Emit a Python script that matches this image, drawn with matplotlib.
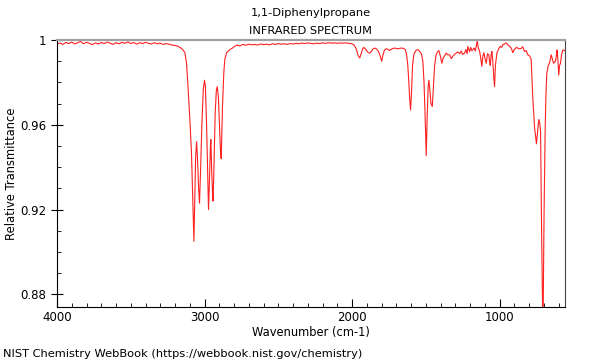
import matplotlib
matplotlib.use("Agg")
import matplotlib.pyplot as plt
from matplotlib.ticker import FixedLocator, MultipleLocator

# spectrum (wavenumber cm-1, relative transmittance)
wavenumber = [
    4000, 3980, 3960, 3940, 3920, 3900, 3880, 3860, 3840, 3820,
    3800, 3780, 3760, 3740, 3720, 3700, 3680, 3660, 3640, 3620,
    3600, 3580, 3560, 3540, 3520, 3500, 3480, 3460, 3440, 3420,
    3400, 3380, 3360, 3340, 3320, 3300, 3280, 3260, 3240, 3220,
    3200, 3180, 3160, 3145, 3133, 3122, 3111, 3099, 3088, 3080,
    3072, 3066, 3060, 3054, 3048, 3040, 3034, 3026, 3018, 3008,
    3000, 2994, 2986, 2978, 2973, 2966, 2960, 2957, 2952, 2946,
    2942, 2936, 2928, 2920, 2914, 2906, 2898, 2892, 2887, 2878,
    2869, 2862, 2850, 2829, 2810, 2800, 2780, 2760, 2740, 2720,
    2700, 2680, 2660, 2640, 2620, 2600, 2580, 2560, 2540, 2520,
    2500, 2480, 2460, 2440, 2420, 2400, 2380, 2360, 2340, 2320,
    2300, 2280, 2260, 2240, 2220, 2200, 2180, 2160, 2140, 2120,
    2100, 2080, 2060, 2040, 2020, 2000, 1985, 1970, 1958, 1948,
    1938, 1928, 1921, 1910, 1900, 1890, 1880, 1870, 1860, 1847,
    1835, 1820, 1810, 1799, 1790, 1780, 1767, 1755, 1745, 1730,
    1711, 1690, 1666, 1650, 1639, 1630, 1622, 1615, 1609, 1603,
    1597, 1590, 1580, 1565, 1553, 1540, 1530, 1520, 1512, 1505,
    1497, 1490, 1484, 1479, 1472, 1465, 1456, 1448, 1440, 1430,
    1420, 1411, 1400, 1391, 1383, 1373, 1361, 1350, 1339, 1327,
    1315, 1300, 1290, 1282, 1270, 1260, 1250, 1237, 1228, 1220,
    1215, 1210, 1203, 1195, 1188, 1181, 1172, 1165, 1158, 1151,
    1145, 1140, 1135, 1128, 1120, 1113, 1106, 1098, 1090, 1082,
    1073, 1068, 1063, 1057, 1052, 1046, 1040, 1034, 1028, 1018,
    1005, 995, 985, 978, 965, 955, 945, 935, 921, 910,
    900, 890, 883, 870, 853, 843, 831, 820, 808, 797,
    786, 775, 763, 750, 742, 734, 728, 722, 715, 706,
    698, 691, 686, 680, 670, 662, 650, 642, 634, 621,
    614, 610, 604, 599, 593, 587, 580, 571, 560, 555,
]
transmittance = [
    0.9980, 0.9986, 0.9979, 0.9988, 0.9983, 0.9990, 0.9981, 0.9987, 0.9993, 0.9982,
    0.9989, 0.9984, 0.9978, 0.9986, 0.9981, 0.9988, 0.9983, 0.9990, 0.9985, 0.9979,
    0.9987, 0.9982, 0.9989, 0.9984, 0.9991, 0.9983, 0.9988, 0.9980, 0.9987, 0.9983,
    0.9989, 0.9984, 0.9981, 0.9987, 0.9982, 0.9985, 0.9979, 0.9983, 0.9980, 0.9976,
    0.9974, 0.9970, 0.9962, 0.9952, 0.9940, 0.9890, 0.9770, 0.9620, 0.9460, 0.9250,
    0.9050, 0.9250, 0.9450, 0.9520, 0.9450, 0.9300, 0.9230, 0.9400, 0.9600, 0.9770,
    0.9810, 0.9780, 0.9600, 0.9350, 0.9200, 0.9350, 0.9500, 0.9530, 0.9400, 0.9280,
    0.9240, 0.9400, 0.9650, 0.9760, 0.9780, 0.9730, 0.9580, 0.9480, 0.9440, 0.9690,
    0.9850, 0.9910, 0.9940, 0.9954, 0.9962, 0.9968, 0.9976, 0.9972, 0.9979, 0.9975,
    0.9980, 0.9977, 0.9979, 0.9976, 0.9981, 0.9978, 0.9980, 0.9977, 0.9982, 0.9979,
    0.9983, 0.9980, 0.9982, 0.9979, 0.9983, 0.9981, 0.9984, 0.9982, 0.9985, 0.9983,
    0.9986, 0.9984, 0.9982, 0.9985, 0.9983, 0.9986, 0.9984, 0.9987, 0.9985, 0.9986,
    0.9984, 0.9986, 0.9985, 0.9986, 0.9984, 0.9982, 0.9975, 0.9955, 0.9925, 0.9915,
    0.9935, 0.9958, 0.9965, 0.9958, 0.9948, 0.9940, 0.9938, 0.9945, 0.9956, 0.9962,
    0.9958, 0.9945, 0.9925, 0.9900, 0.9930, 0.9952, 0.9959, 0.9955, 0.9950, 0.9958,
    0.9962, 0.9958, 0.9962, 0.9960, 0.9954, 0.9930, 0.9880, 0.9800, 0.9720, 0.9670,
    0.9750, 0.9880, 0.9935, 0.9952, 0.9954, 0.9945, 0.9935, 0.9900, 0.9800, 0.9650,
    0.9455, 0.9650, 0.9780, 0.9810, 0.9760, 0.9700, 0.9686, 0.9780, 0.9880, 0.9930,
    0.9945, 0.9950, 0.9920, 0.9890, 0.9915, 0.9925, 0.9938, 0.9930, 0.9930, 0.9912,
    0.9925, 0.9935, 0.9940, 0.9943, 0.9935, 0.9948, 0.9932, 0.9938, 0.9955, 0.9935,
    0.9970, 0.9960, 0.9945, 0.9965, 0.9950, 0.9954, 0.9962, 0.9948, 0.9970, 0.9997,
    0.9965, 0.9955, 0.9946, 0.9915, 0.9876, 0.9925, 0.9940, 0.9910, 0.9890, 0.9935,
    0.9930, 0.9900, 0.9880, 0.9930, 0.9946, 0.9900, 0.9830, 0.9780, 0.9880, 0.9938,
    0.9960, 0.9970, 0.9965, 0.9978, 0.9982, 0.9986, 0.9978, 0.9972, 0.9962, 0.9940,
    0.9955, 0.9962, 0.9965, 0.9958, 0.9960, 0.9968, 0.9946, 0.9950, 0.9930, 0.9925,
    0.9910, 0.9730, 0.9590, 0.9510, 0.9570, 0.9625, 0.9610, 0.9570, 0.9100, 0.8600,
    0.9200, 0.9570, 0.9730, 0.9840, 0.9880, 0.9890, 0.9930, 0.9910, 0.9890, 0.9900,
    0.9930, 0.9953, 0.9900, 0.9834, 0.9880, 0.9890, 0.9930, 0.9953, 0.9950, 0.9948,
]

y_ticks = [0.88, 0.92, 0.96, 1.0]
y_labels = ["0.88", "0.92", "0.96", "1"]
x_ticks = [4000, 3000, 2000, 1000]

fig = plt.figure(figsize=(6, 3.6), dpi=100)
ax = fig.add_axes([0.095, 0.147, 0.847, 0.742])
ax.plot(wavenumber, transmittance, color="#ff2020", lw=0.8)

ax.set_xlim(4000, 555)
ax.set_ylim(0.874, 1.0)

ax.xaxis.set_major_locator(FixedLocator(x_ticks))
ax.xaxis.set_minor_locator(MultipleLocator(100))
ax.yaxis.set_major_locator(FixedLocator(y_ticks))
ax.set_yticklabels(y_labels)
ax.yaxis.set_minor_locator(MultipleLocator(0.01))

ax.tick_params(axis="x", which="major", direction="in", length=6, labelsize=8.5, pad=3)
ax.tick_params(axis="x", which="minor", direction="in", length=3)
ax.tick_params(axis="y", which="major", direction="inout", length=8, labelsize=8.5)
ax.tick_params(axis="y", which="minor", direction="in", length=3)

ax.spines["top"].set_color("#a0a0a0")
ax.spines["top"].set_linewidth(1.6)
ax.spines["right"].set_color("#444444")
for s in ["left", "bottom"]:
    ax.spines[s].set_color("black")
    ax.spines[s].set_linewidth(0.8)

ax.set_xlabel("Wavenumber (cm-1)", fontsize=8.3, labelpad=1)
ax.set_ylabel("Relative Transmittance", fontsize=8.3, labelpad=2)

fig.text(0.518, 0.965, "1,1-Diphenylpropane", ha="center", va="center", fontsize=8.2)
fig.text(0.518, 0.915, "INFRARED SPECTRUM", ha="center", va="center", fontsize=8.2)
fig.text(0.005, 0.018, "NIST Chemistry WebBook (https://webbook.nist.gov/chemistry)",
         ha="left", va="center", fontsize=8.2)

fig.savefig("out.png", dpi=100)
